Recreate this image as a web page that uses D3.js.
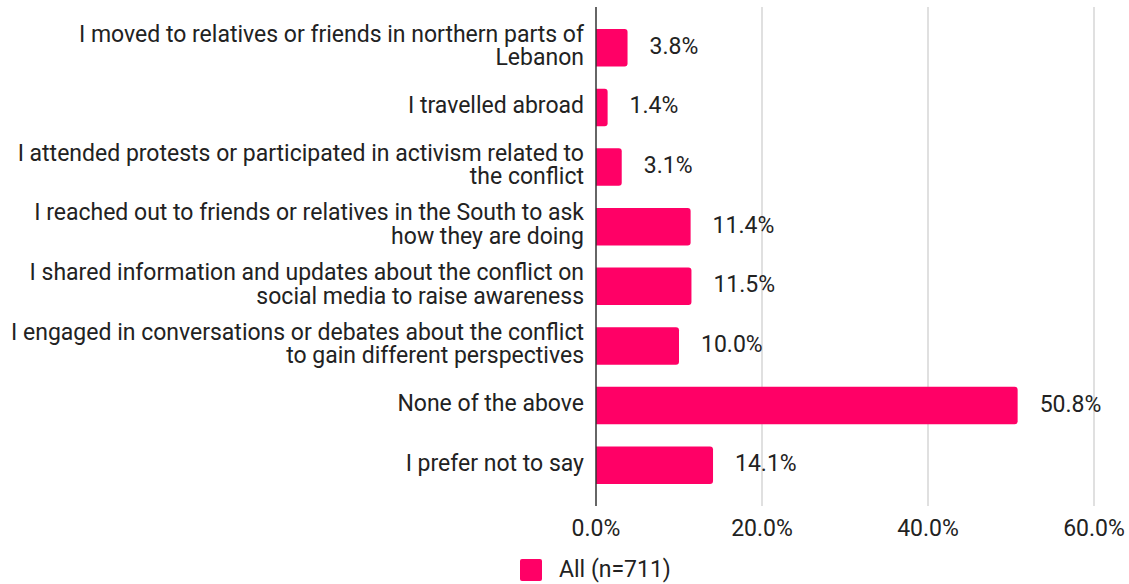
<html>
    <head>
        <style>
            body { margin: 0; background: #fff; }
            svg text {
                font-family: Roboto, Arial, sans-serif;
                font-size: 23px;
                fill: #222;
            }
        </style>
    </head>
    <body>
        <svg class="chart" width="1129" height="584"></svg>
        <script src="https://d3js.org/d3.v7.min.js"></script>
        <script>
            // categories (line breaks as in the original)
            var categories = [
              'I moved to relatives or friends in northern parts of\nLebanon',
              'I travelled abroad',
              'I attended protests or participated in activism related to\nthe conflict',
              'I reached out to friends or relatives in the South to ask\nhow they are doing',
              'I shared information and updates about the conflict on\nsocial media to raise awareness',
              'I engaged in conversations or debates about the conflict\nto gain different perspectives',
              'None of the above',
              'I prefer not to say'
            ];
            var values = [3.8, 1.4, 3.1, 11.4, 11.5, 10.0, 50.8, 14.1];
            var ticks = [0, 20, 40, 60];
            var seriesName = 'All (n=711)';
            var barColor = '#ff0066';

            var svg = d3.select('svg');

            var x = d3.scaleLinear().domain([0, 60]).range([596, 1094]);
            var y = d3.scaleBand().domain(d3.range(categories.length)).range([7, 506]).padding(0.37);

            // gridlines
            svg.append('g').selectAll('line')
              .data(ticks.filter(function(t) { return t > 0; }))
              .enter().append('line')
              .attr('x1', function(d) { return x(d); })
              .attr('x2', function(d) { return x(d); })
              .attr('y1', 7).attr('y2', 506)
              .attr('stroke', '#cccccc').attr('stroke-width', 1.2);

            // tick labels
            svg.append('g').selectAll('text')
              .data(ticks)
              .enter().append('text')
              .attr('x', function(d) { return x(d); })
              .attr('y', 536)
              .attr('text-anchor', 'middle')
              .text(function(d) { return d.toFixed(1) + '%'; });

            // bars with rounded right end
            function barPath(i) {
              var x0 = x(0), x1 = x(values[i]), y0 = y(i), h = y.bandwidth();
              var r = Math.min(3, x1 - x0);
              return 'M' + x0 + ',' + y0 +
                'H' + (x1 - r) + 'Q' + x1 + ',' + y0 + ' ' + x1 + ',' + (y0 + r) +
                'V' + (y0 + h - r) + 'Q' + x1 + ',' + (y0 + h) + ' ' + (x1 - r) + ',' + (y0 + h) +
                'H' + x0 + 'Z';
            }
            svg.append('g').selectAll('path')
              .data(values)
              .enter().append('path')
              .attr('d', function(d, i) { return barPath(i); })
              .attr('fill', barColor);

            // value labels
            svg.append('g').selectAll('text')
              .data(values)
              .enter().append('text')
              .attr('x', function(d) { return x(d) + 22; })
              .attr('y', function(d, i) { return y(i) + y.bandwidth() / 2 + 6; })
              .text(function(d) { return d.toFixed(1) + '%'; });

            // category labels
            var labels = svg.append('g').selectAll('text')
              .data(categories)
              .enter().append('text')
              .attr('text-anchor', 'end');
            labels.each(function(d, i) {
              var lines = d.split('\n');
              var c = y(i) + y.bandwidth() / 2;
              var t = d3.select(this);
              lines.forEach(function(l, j) {
                t.append('tspan')
                  .attr('x', 584)
                  .attr('y', c + 5.5 + (j - (lines.length - 1) / 2) * 23.5)
                  .text(l);
              });
            });

            // zero axis
            svg.append('line')
              .attr('x1', x(0)).attr('x2', x(0))
              .attr('y1', 7).attr('y2', 506)
              .attr('stroke', '#333').attr('stroke-width', 1.5);

            // legend
            var lg = svg.append('g');
            lg.append('rect')
              .attr('x', 520).attr('y', 559).attr('width', 22).attr('height', 22)
              .attr('rx', 2).attr('fill', barColor);
            lg.append('text')
              .attr('x', 559).attr('y', 577)
              .text(seriesName);
        </script>
    </body>
</html>
